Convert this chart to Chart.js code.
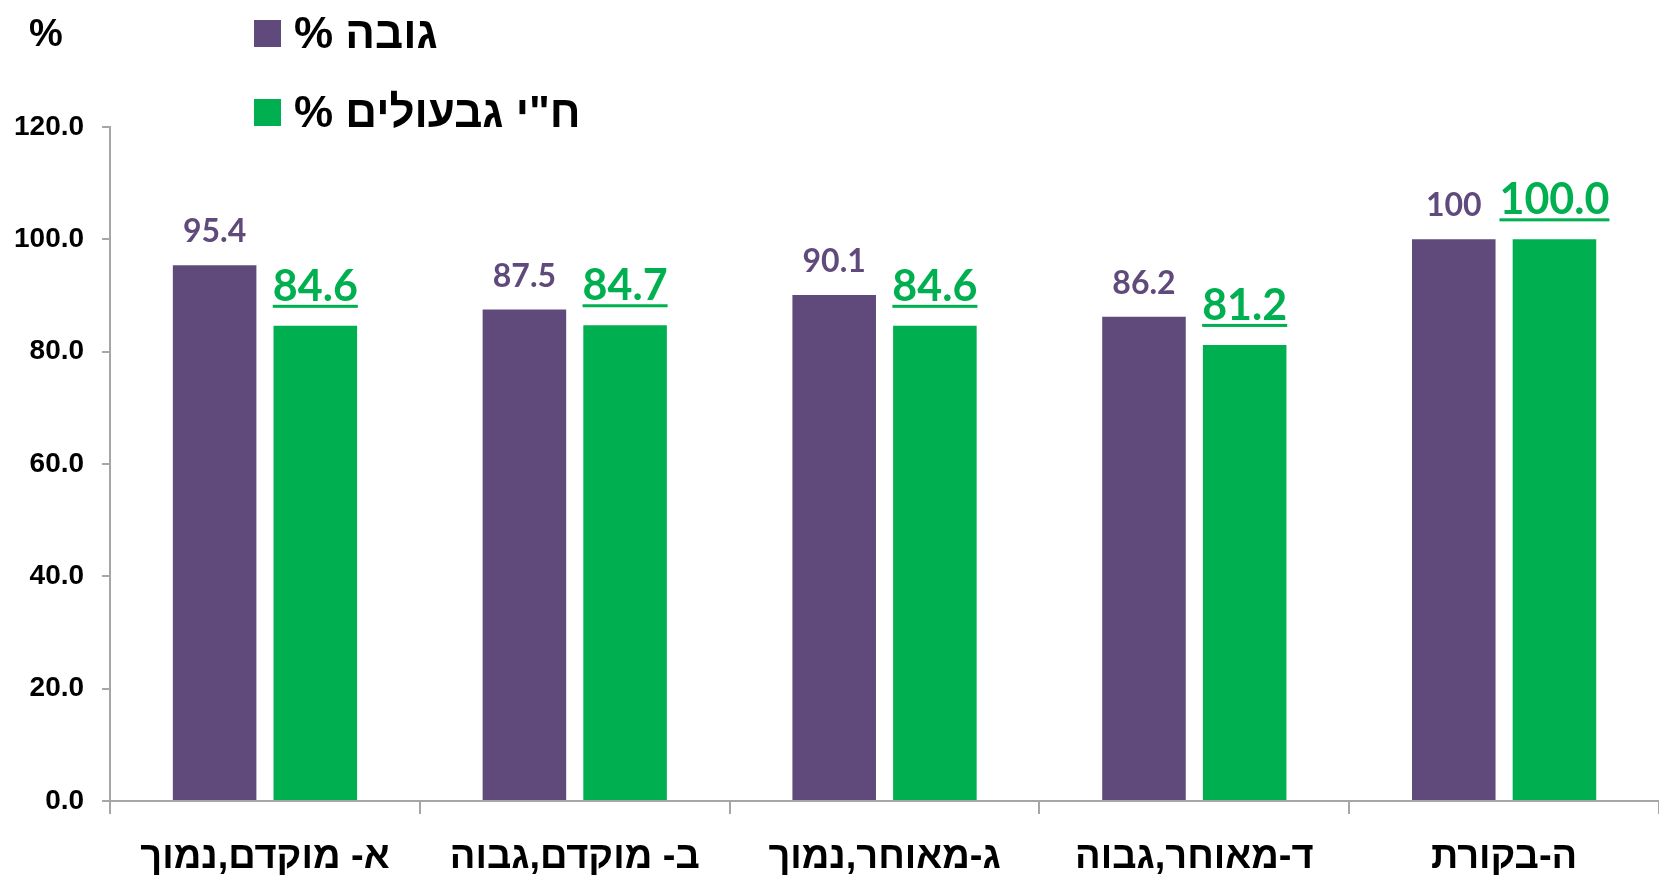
<!DOCTYPE html>
<html>
<head>
<meta charset="utf-8">
<script src="https://cdn.jsdelivr.net/npm/chart.js@4/dist/chart.umd.min.js"></script>
<style>
  html, body { margin: 0; padding: 0; background: #ffffff; }
  #wrap { width: 1659px; height: 877px; position: relative; }
</style>
</head>
<body>
<div id="wrap"><canvas id="chart" width="1659" height="877"></canvas></div>
<script>
  // Chart values.
  var categories = ['א- מוקדם,נמוך', 'ב- מוקדם,גבוה', 'ג-מאוחר,נמוך', 'ד-מאוחר,גבוה', 'ה-בקורת'];
  var heightPct  = [95.4, 87.5, 90.1, 86.2, 100];
  var stemsPct   = [84.6, 84.7, 84.6, 81.2, 100.0];
  var seriesNames = ['גובה %', 'ח"י גבעולים %'];
  var yTicks = { min: 0, max: 120, step: 20 };

  var PURPLE = '#604A7B';
  var GREEN  = '#00B050';
  var AXIS   = '#A6A6A6';
  var NARROW = '"Liberation Sans Narrow", "Liberation Sans", Arial, sans-serif';
  var NUMFONT = 'Lato, "Open Sans", sans-serif';

  // Value labels above every bar; the green series is larger and underlined.
  var valueLabels = {
    id: 'valueLabels',
    afterDatasetsDraw: function (chart) {
      var ctx = chart.ctx;
      chart.data.datasets.forEach(function (ds, di) {
        var meta = chart.getDatasetMeta(di);
        meta.data.forEach(function (bar, i) {
          var v = ds.data[i];
          var txt, size, gap;
          if (di === 0) { txt = String(v); size = 32; gap = 23; }
          else { txt = v.toFixed(1); size = 43; gap = 25; }
          ctx.save();
          ctx.font = 'bold ' + size + 'px ' + NUMFONT;
          ctx.fillStyle = ds.backgroundColor;
          ctx.textAlign = 'center';
          ctx.textBaseline = 'alphabetic';
          var y = bar.y - gap;
          ctx.fillText(txt, bar.x, y);
          if (di === 1) {
            var w = ctx.measureText(txt).width;
            ctx.fillRect(bar.x - w / 2, y + 4, w, 3);
          }
          ctx.restore();
        });
      });
    }
  };

  // Legend in the top-left block plus the "%" axis caption.
  var sideLegend = {
    id: 'sideLegend',
    afterDraw: function (chart) {
      var ctx = chart.ctx;
      ctx.save();
      ctx.fillStyle = '#000000';
      ctx.font = 'bold 38px ' + NARROW;
      ctx.textBaseline = 'middle';
      ctx.textAlign = 'left';
      ctx.fillText('%', 29, 36);

      var rows = [34, 113];
      chart.data.datasets.forEach(function (ds, di) {
        var cy = rows[di];
        ctx.fillStyle = ds.backgroundColor;
        ctx.fillRect(254, cy - 14, 27, 27);
        ctx.fillStyle = '#000000';
        ctx.font = 'bold 44px ' + NARROW;
        ctx.direction = 'rtl';
        ctx.textAlign = 'left';
        ctx.fillText(ds.label, 294, cy + 2);
      });
      ctx.restore();
    }
  };

  new Chart(document.getElementById('chart'), {
    type: 'bar',
    data: {
      labels: categories,
      datasets: [
        { label: seriesNames[0], data: heightPct, backgroundColor: PURPLE, borderWidth: 0 },
        { label: seriesNames[1], data: stemsPct,  backgroundColor: GREEN,  borderWidth: 0 }
      ]
    },
    options: {
      responsive: false,
      animation: false,
      devicePixelRatio: 1,
      categoryPercentage: 0.65,
      barPercentage: 0.83,
      layout: { padding: { top: 127, left: -4, right: -5, bottom: -25 } },
      plugins: {
        legend: { display: false },
        tooltip: { enabled: false }
      },
      scales: {
        x: {
          grid: { offset: true, drawOnChartArea: false, tickLength: 13, color: AXIS, lineWidth: 2 },
          border: { color: AXIS, width: 2 },
          ticks: {
            color: '#000000',
            padding: 25,
            font: { family: NARROW, size: 38, weight: 'bold', lineHeight: 1 }
          }
        },
        y: {
          min: yTicks.min,
          max: yTicks.max,
          grid: { drawOnChartArea: false, tickLength: 8, color: AXIS, lineWidth: 2 },
          border: { color: AXIS, width: 2 },
          ticks: {
            stepSize: yTicks.step,
            color: '#000000',
            padding: 18,
            font: { family: NARROW, size: 28, weight: 'bold' },
            callback: function (v) { return v.toFixed(1); }
          }
        }
      }
    },
    plugins: [valueLabels, sideLegend]
  });
</script>
</body>
</html>
